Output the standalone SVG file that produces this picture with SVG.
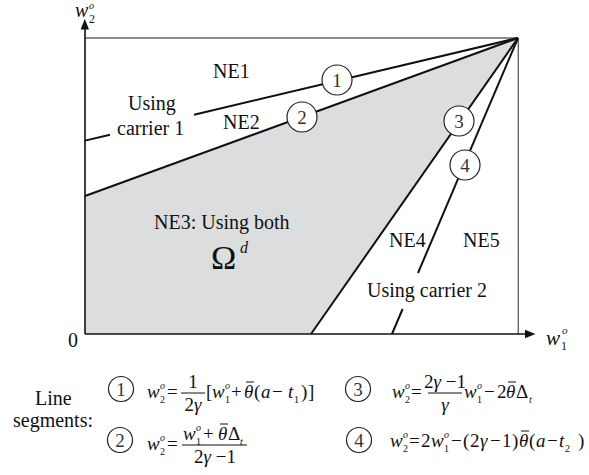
<svg xmlns="http://www.w3.org/2000/svg" width="589" height="475" viewBox="0 0 589 475">
<style>
text{font-family:"Liberation Serif","Times New Roman",serif;fill:#111}
.L{font-size:20px}
.f{font-size:19px}
.s{font-size:10px}
.i{font-style:italic}
.n{font-size:19px;fill:#333;text-anchor:middle}
.ln{stroke:#111;stroke-width:2;fill:none;stroke-linecap:butt}
.box{stroke:#666;stroke-width:1.4;fill:none}
.ax{stroke:#111;stroke-width:1.6;fill:none}
.c{fill:#fff;stroke:#222;stroke-width:1.2}
.bar{stroke:#111;stroke-width:1}
</style>
<rect width="589" height="475" fill="#fff"/>
<g id="region">
<polygon points="85,196 518,38 311,334 85,334" fill="#dcdddf"/>
</g>
<g id="frame">
<line class="box" x1="85" y1="38" x2="518" y2="38"/>
<line class="box" x1="518.3" y1="38" x2="518.3" y2="334"/>
<line class="ax" x1="85" y1="334" x2="85" y2="28"/>
<polygon points="84.8,19 80.6,29.5 89,29.5" fill="#111"/>
<line class="ax" x1="85" y1="334" x2="527" y2="334"/>
<polygon points="535.5,334 525,329.8 525,338.2" fill="#111"/>
</g>
<g id="connectors">
<line class="ln" x1="85" y1="140.6" x2="110" y2="134.7"/>
<line class="ln" x1="194" y1="114.7" x2="518" y2="38"/>
<line class="ln" x1="85" y1="196" x2="518" y2="38"/>
<line class="ln" x1="518" y1="38" x2="311" y2="334"/>
<line class="ln" x1="518" y1="38" x2="418" y2="273"/>
<line class="ln" x1="402.6" y1="309" x2="392" y2="334"/>
</g>
<g id="circle1"><circle class="c" cx="337" cy="80" r="15"/><text class="n" x="337" y="87">1</text></g>
<g id="circle2"><circle class="c" cx="302" cy="117" r="15"/><text class="n" x="302" y="124">2</text></g>
<g id="circle3"><circle class="c" cx="459" cy="121" r="15"/><text class="n" x="459" y="128">3</text></g>
<g id="circle4"><circle class="c" cx="465" cy="165" r="15"/><text class="n" x="465" y="172">4</text></g>
<g id="labels">
<text class="L" x="213" y="78">NE1</text>
<text class="L" x="128" y="110">Using</text>
<text class="L" x="117" y="134.5">carrier 1</text>
<text class="L" x="223" y="129">NE2</text>
<text class="L" x="154" y="229">NE3: Using both</text>
<text x="211" y="269" style="font-size:34px">Ω<tspan class="i" x="240" y="253" style="font-size:16px">d</tspan></text>
<text class="L" x="389" y="247">NE4</text>
<text class="L" x="463" y="247">NE5</text>
<text class="L" x="367" y="297">Using carrier 2</text>
<text class="L" x="68" y="347">0</text>
<text class="i" x="75" y="17" style="font-size:20px">w<tspan x="89" y="23" style="font-size:12px;font-style:normal">2</tspan><tspan x="89" y="9" style="font-size:10px">o</tspan></text>
<text class="i" x="546" y="345" style="font-size:21px">w<tspan x="561" y="350" style="font-size:12px;font-style:normal">1</tspan><tspan x="562" y="334" style="font-size:11px">o</tspan></text>
</g>
<g id="legend">
<text class="L" x="35" y="405">Line</text>
<text class="L" x="13" y="427">segments:</text>
<!-- row 1 -->
<circle class="c" cx="121" cy="389" r="12.5"/><text class="n" x="121" y="396">1</text>
<text class="f"><tspan class="i" x="147" y="398">w</tspan><tspan class="s" x="160" y="403">2</tspan><tspan class="s i" x="160" y="389">o</tspan><tspan x="167" y="398">=</tspan><tspan x="206" y="398">[</tspan><tspan class="i" x="212" y="398">w</tspan><tspan class="s" x="225" y="403">1</tspan><tspan class="s i" x="225" y="389">o</tspan><tspan x="231" y="398">+</tspan><tspan class="i" x="244" y="398">θ</tspan><tspan x="254" y="398">(</tspan><tspan class="i" x="261" y="398">a</tspan><tspan x="272" y="398">−</tspan><tspan class="i" x="288" y="398">t</tspan><tspan class="s" x="294" y="403">1</tspan><tspan x="301" y="398">)</tspan><tspan x="308" y="398">]</tspan></text>
<line class="bar" x1="181" y1="393" x2="205" y2="393"/>
<line class="bar" x1="246" y1="382" x2="254" y2="382"/>
<text class="f" x="193" y="388" text-anchor="middle">1</text>
<text class="f" x="193" y="411" text-anchor="middle">2<tspan class="i">γ</tspan></text>
<!-- row 3 -->
<circle class="c" cx="358" cy="389" r="12.5"/><text class="n" x="358" y="396">3</text>
<text class="f"><tspan class="i" x="392" y="398">w</tspan><tspan class="s" x="405" y="403">2</tspan><tspan class="s i" x="405" y="389">o</tspan><tspan x="411" y="398">=</tspan><tspan class="i" x="464" y="398">w</tspan><tspan class="s" x="477" y="403">1</tspan><tspan class="s i" x="477" y="389">o</tspan><tspan x="484" y="398">−</tspan><tspan x="497" y="398">2</tspan><tspan class="i" x="506" y="398">θ</tspan><tspan x="516" y="398">Δ</tspan><tspan class="s i" x="529" y="403">t</tspan></text>
<line class="bar" x1="428" y1="393" x2="462" y2="393"/>
<line class="bar" x1="508" y1="382" x2="516" y2="382"/>
<text class="f" x="445" y="388" text-anchor="middle">2<tspan class="i">γ</tspan> −1</text>
<text class="f i" x="445" y="411" text-anchor="middle">γ</text>
<!-- row 2 -->
<circle class="c" cx="120" cy="440" r="12.5"/><text class="n" x="120" y="447">2</text>
<text class="f"><tspan class="i" x="147" y="450">w</tspan><tspan class="s" x="160" y="455">2</tspan><tspan class="s i" x="160" y="441">o</tspan><tspan x="167" y="450">=</tspan></text>
<line class="bar" x1="182" y1="445" x2="247" y2="445"/>
<text class="f"><tspan class="i" x="183" y="440">w</tspan><tspan class="s" x="196" y="445">1</tspan><tspan class="s i" x="196" y="431">o</tspan><tspan x="203" y="440">+</tspan><tspan class="i" x="218" y="440">θ</tspan><tspan x="228" y="440">Δ</tspan><tspan class="s i" x="240" y="445">t</tspan></text>
<line class="bar" x1="220" y1="424" x2="228" y2="424"/>
<text class="f" x="215" y="463" text-anchor="middle">2<tspan class="i">γ</tspan> −1</text>
<!-- row 4 -->
<circle class="c" cx="359" cy="440" r="12.5"/><text class="n" x="359" y="447">4</text>
<text class="f"><tspan class="i" x="390" y="447">w</tspan><tspan class="s" x="403" y="452">2</tspan><tspan class="s i" x="403" y="438">o</tspan><tspan x="409" y="447">=</tspan><tspan x="421" y="447">2</tspan><tspan class="i" x="431" y="447">w</tspan><tspan class="s" x="444" y="452">1</tspan><tspan class="s i" x="444" y="438">o</tspan><tspan x="451" y="447">−</tspan><tspan x="463" y="447">(</tspan><tspan x="470" y="447">2</tspan><tspan class="i" x="480" y="447">γ</tspan><tspan x="490" y="447">−</tspan><tspan x="502" y="447">1</tspan><tspan x="512" y="447">)</tspan><tspan class="i" x="519" y="447">θ</tspan><tspan x="529" y="447">(</tspan><tspan class="i" x="536" y="447">a</tspan><tspan x="547" y="447">−</tspan><tspan class="i" x="559" y="447">t</tspan><tspan class="s" x="565" y="452">2</tspan><tspan x="578" y="447">)</tspan></text>
<line class="bar" x1="521" y1="431" x2="529" y2="431"/>
</g>
</svg>
